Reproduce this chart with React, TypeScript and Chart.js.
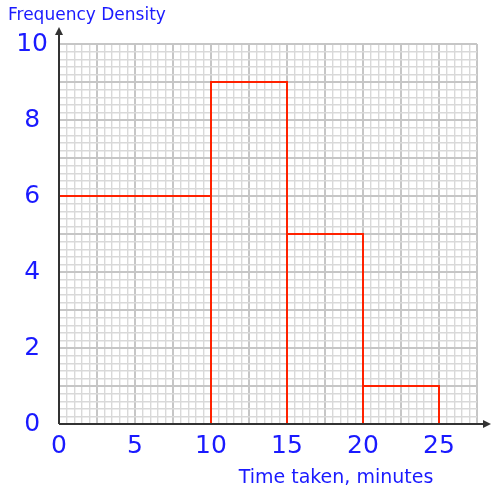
import React, { useEffect, useRef } from 'react';
import { Chart, registerables } from 'chart.js';
Chart.register(...registerables);

const classEdges = [0, 10, 15, 20, 25];
const frequencyDensity = [6, 9, 5, 1];
const xMajorLabels = [0, 5, 10, 15, 20, 25];
const yMajorLabels = [0, 2, 4, 6, 8, 10];
const yTitle = 'Frequency Density';
const xTitle = 'Time taken, minutes';

const BLUE = '#1a1aff';
const RED = '#ff2200';
const FONT = '"DejaVu Sans", sans-serif';

const near = (a: number, b: number) => Math.abs(a - b) < 1e-6;
const isMult = (v: number, m: number) => near(v / m, Math.round(v / m));

export default function App() {
  const ref = useRef<HTMLCanvasElement | null>(null);
  useEffect(() => {
    const canvas = ref.current;
    if (!canvas) return;
    const pts: { x: number; y: number }[] = [];
    frequencyDensity.forEach((h, i) => {
      const l = classEdges[i];
      const r = classEdges[i + 1];
      pts.push({ x: l, y: 0 }, { x: l, y: h }, { x: r, y: h }, { x: r, y: 0 });
    });

    const overlay = {
      id: 'overlay',
      afterDatasetsDraw(chart: any) {
        const { ctx, chartArea, scales } = chart;
        const x0 = scales.x.getPixelForValue(0);
        const y0 = scales.y.getPixelForValue(0);
        ctx.save();
        ctx.strokeStyle = '#333';
        ctx.fillStyle = '#333';
        ctx.lineWidth = 2;
        ctx.beginPath();
        ctx.moveTo(x0, y0);
        ctx.lineTo(x0, chartArea.top - 12);
        ctx.moveTo(x0, y0);
        ctx.lineTo(chartArea.right + 8, y0);
        ctx.stroke();
        ctx.beginPath();
        ctx.moveTo(x0, chartArea.top - 17);
        ctx.lineTo(x0 - 4, chartArea.top - 9);
        ctx.lineTo(x0 + 4, chartArea.top - 9);
        ctx.closePath();
        ctx.fill();
        ctx.beginPath();
        ctx.moveTo(chartArea.right + 14, y0);
        ctx.lineTo(chartArea.right + 6, y0 - 4);
        ctx.lineTo(chartArea.right + 6, y0 + 4);
        ctx.closePath();
        ctx.fill();
        ctx.fillStyle = BLUE;
        ctx.textBaseline = 'middle';
        ctx.font = `17px ${FONT}`;
        ctx.textAlign = 'left';
        ctx.fillText(yTitle, 8, 16);
        ctx.font = `19px ${FONT}`;
        ctx.textAlign = 'center';
        ctx.fillText(xTitle, 336, 478);
        ctx.restore();
      },
    };

    const chart = new Chart(canvas, {
      type: 'scatter',
      data: {
        datasets: [
          {
            data: pts,
            showLine: true,
            borderColor: RED,
            borderWidth: 2,
            pointRadius: 0,
            tension: 0,
            fill: false,
          },
        ],
      },
      options: {
        animation: false,
        responsive: false,
        layout: { padding: { top: 44, right: 14, left: 0, bottom: 0 } },
        plugins: { legend: { display: false }, tooltip: { enabled: false } },
        scales: {
          x: {
            type: 'linear',
            min: 0,
            max: 27.5,
            afterFit: (s: any) => {
              s.height = 70;
            },
            border: { display: false },
            grid: {
              drawTicks: false,
              color: (c: any) => (isMult(c.tick.value, 2.5) ? '#c6c6c6' : '#d9d9d9'),
              lineWidth: (c: any) => (isMult(c.tick.value, 2.5) ? 2 : 1.4),
            },
            ticks: {
              stepSize: 0.5,
              autoSkip: false,
              maxRotation: 0,
              padding: 7,
              color: BLUE,
              font: { size: 25, family: FONT },
              callback: (v: any) => (xMajorLabels.some((m) => near(m, v)) ? String(Math.round(v)) : ''),
            },
          },
          y: {
            type: 'linear',
            min: 0,
            max: 10,
            afterFit: (s: any) => {
              s.width = 59;
            },
            border: { display: false },
            grid: {
              drawTicks: false,
              color: (c: any) => (isMult(c.tick.value, 1) ? '#c6c6c6' : '#d9d9d9'),
              lineWidth: (c: any) => (isMult(c.tick.value, 1) ? 2 : 1.4),
            },
            ticks: {
              stepSize: 0.2,
              autoSkip: false,
              crossAlign: 'center',
              padding: 11,
              color: BLUE,
              font: { size: 25, family: FONT },
              callback: (v: any) => (yMajorLabels.some((m) => near(m, v)) ? String(Math.round(v)) : ''),
            },
          },
        },
      },
      plugins: [overlay],
    } as any);
    return () => chart.destroy();
  }, []);
  return (
    <div style={{ position: 'absolute', left: 0, top: 0, width: 491, height: 494, background: '#fff' }}>
      <canvas ref={ref} width={491} height={494} style={{ display: 'block' }} />
    </div>
  );
}
